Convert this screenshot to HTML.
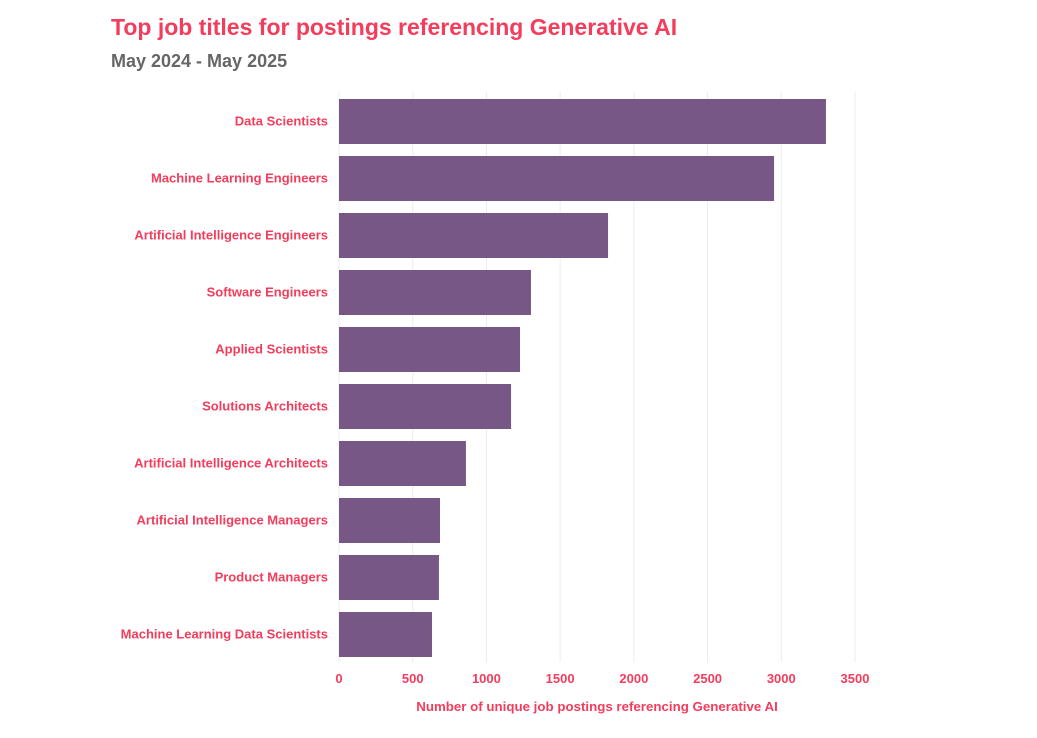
<!DOCTYPE html>
<html><head><meta charset="utf-8"><style>
body{margin:0;background:#fff;font-family:"Liberation Sans",sans-serif;}
svg text{font-family:"Liberation Sans",sans-serif;}
</style></head><body>
<svg id="chart" width="1037" height="733">
<text x="111" y="35" font-size="23" font-weight="bold" fill="#f23d5c">Top job titles for postings referencing Generative AI</text>
<text x="111" y="67" font-size="18" font-weight="bold" fill="#666">May 2024 - May 2025</text>
<g id="grid"></g><g id="bars"></g><g id="ylabels"></g><g id="xticks"></g>
<text x="597" y="711" font-size="13.3" font-weight="bold" fill="#f23d5c" text-anchor="middle">Number of unique job postings referencing Generative AI</text>
</svg>
<script>
const categories=["Data Scientists","Machine Learning Engineers","Artificial Intelligence Engineers","Software Engineers","Applied Scientists","Solutions Architects","Artificial Intelligence Architects","Artificial Intelligence Managers","Product Managers","Machine Learning Data Scientists"];
const values=[3303,2951,1825,1302,1228,1167,861,685,678,631];
const ticks=[0,500,1000,1500,2000,2500,3000,3500];
const NS="http://www.w3.org/2000/svg";
const x0=339,pxPer=(855-339)/3500;
const xs=v=>x0+v*pxPer;
const yTop=i=>99+i*57;
const bh=45;
function mk(t,a,p){const e=document.createElementNS(NS,t);for(const k in a)e.setAttribute(k,a[k]);p.appendChild(e);return e;}
const g=document.getElementById('grid'),b=document.getElementById('bars'),yl=document.getElementById('ylabels'),xt=document.getElementById('xticks');
ticks.forEach(t=>{
 const l=mk('line',{x1:xs(t),x2:xs(t),y1:92,y2:662,stroke:'#ececec','stroke-width':1},g);
 
 
 const tx=mk('text',{x:xs(t),y:683,'font-size':13,'font-weight':'bold',fill:'#f23d5c','text-anchor':'middle'},xt);
 tx.textContent=t;
 
 
});
categories.forEach((c,i)=>{
 const r=mk('rect',{x:x0,y:yTop(i),width:xs(values[i])-x0,height:bh,fill:'#765785'},b);
 
 
 const t=mk('text',{x:328,y:yTop(i)+bh/2+4,'font-size':13,'font-weight':'bold',fill:'#f23d5c','text-anchor':'end'},yl);
 t.textContent=c;
 
 
});
</script>
</body></html>
